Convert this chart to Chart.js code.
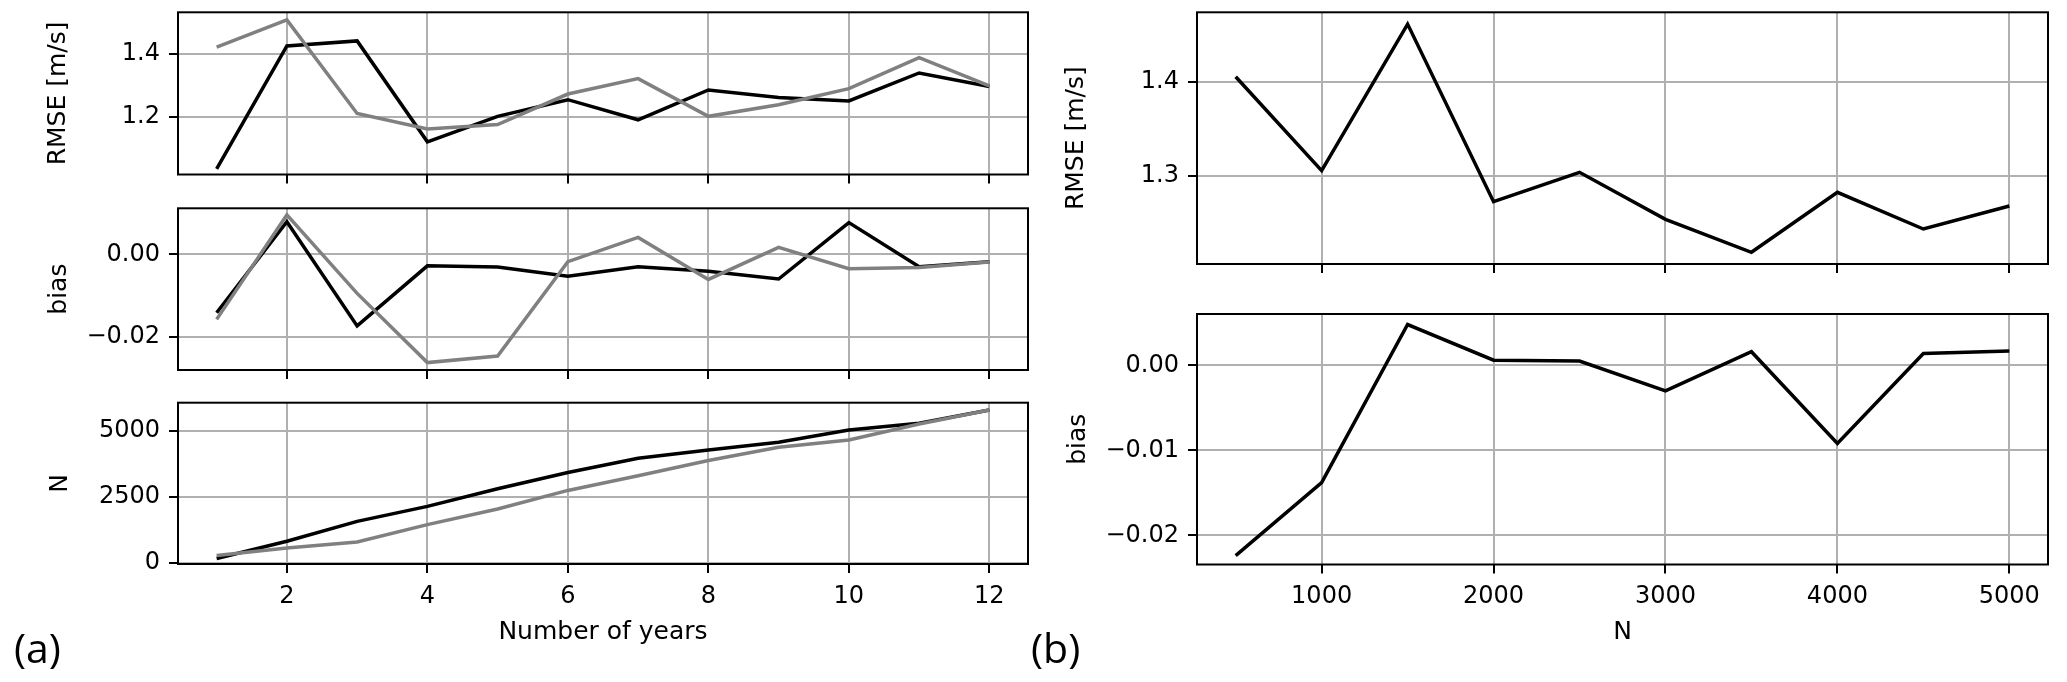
<!DOCTYPE html>
<html>
<head>
<meta charset="utf-8">
<script src="https://cdn.jsdelivr.net/npm/chart.js@4.4.1/dist/chart.umd.min.js"></script>
<style>
  body { margin: 0; background: #fff; }
  #wrap { position: relative; width: 2067px; height: 682px; overflow: hidden; }
  canvas { position: absolute; }
  .tag { position: absolute; font-family: "Open Sans"; font-size: 41px; line-height: 1; color: #000; }
</style>
</head>
<body>
<div id="wrap">
  <canvas id="rmseYears" width="1040" height="200" style="left:0px;top:0px"></canvas>
  <canvas id="biasYears" width="1040" height="195" style="left:0px;top:195px"></canvas>
  <canvas id="countYears" width="1040" height="292" style="left:0px;top:390px"></canvas>
  <canvas id="rmseN" width="1037" height="290" style="left:1030px;top:0px"></canvas>
  <canvas id="biasN" width="1037" height="392" style="left:1030px;top:290px"></canvas>
  <div class="tag" style="left:14px;top:627px">(a)</div>
  <div class="tag" style="left:1031px;top:627px">(b)</div>
</div>
<script>
// (a) error vs number of years, two runs (black, gray)
const years = [1, 2, 3, 4, 5, 6, 7, 8, 9, 10, 11, 12];
const rmseBlack = [1.035, 1.426, 1.442, 1.121, 1.202, 1.255, 1.191, 1.286, 1.262, 1.251, 1.340, 1.297];
const rmseGray = [1.422, 1.509, 1.211, 1.162, 1.176, 1.273, 1.322, 1.202, 1.239, 1.290, 1.389, 1.299];
const biasBlack = [-0.0142, 0.0079, -0.0174, -0.0028, -0.0031, -0.0053, -0.0030, -0.0041, -0.0060, 0.0077, -0.0030, -0.0018];
const biasGray = [-0.0158, 0.0096, -0.0095, -0.0263, -0.0247, -0.0018, 0.0041, -0.0061, 0.0017, -0.0035, -0.0032, -0.0019];
const countBlack = [180, 829, 1583, 2148, 2814, 3429, 3969, 4283, 4572, 5037, 5288, 5790];
const countGray = [290, 578, 804, 1457, 2047, 2751, 3304, 3881, 4384, 4660, 5263, 5790];

// (b) error vs sample size N
const sampleSizes = [500, 1000, 1500, 2000, 2500, 3000, 3500, 4000, 4500, 5000];
const rmseBySize = [1.4053, 1.3057, 1.4611, 1.2728, 1.3039, 1.2541, 1.2191, 1.2827, 1.2438, 1.2682];
const biasBySize = [-0.0224, -0.0138, 0.0048, 0.0006, 0.0005, -0.0030, 0.0016, -0.0092, 0.0014, 0.0017];

// tick positions
const yearTicks = [2, 4, 6, 8, 10, 12];
const sizeTicks = [1000, 2000, 3000, 4000, 5000];
const rmseYearTicks = [1.2, 1.4];
const biasYearTicks = [-0.02, 0];
const countTicks = [0, 2500, 5000];
const rmseSizeTicks = [1.3, 1.4];
const biasSizeTicks = [-0.02, -0.01, 0];

Chart.defaults.font.family = "DejaVu Sans";
Chart.defaults.color = "#000";

const BLACK = "#000000";
const GRAY = "#808080";

// matplotlib style box around the axes
const frame = {
  id: "frame",
  afterDatasetsDraw(chart) {
    const { ctx, chartArea } = chart;
    ctx.save();
    ctx.strokeStyle = "#000";
    ctx.lineWidth = 2;
    ctx.strokeRect(chartArea.left, chartArea.top, chartArea.right - chartArea.left, chartArea.bottom - chartArea.top);
    ctx.restore();
  },
};

const minus = (s) => s.replace("-", "\u2212");

// scales ask for room for their end labels; the plot box is placed by hand instead
function noOverflow(scale) {
  scale.paddingTop = 0;
  scale.paddingBottom = 0;
  scale.paddingLeft = 0;
  scale.paddingRight = 0;
}

function makePanel(id, p) {
  const ctx = document.getElementById(id).getContext("2d");
  const datasets = p.series.map((s) => ({
    data: p.xs.map((x, i) => ({ x: x, y: s.values[i] })),
    borderColor: s.color,
    borderWidth: 3.5,
    pointRadius: 0,
    tension: 0,
    fill: false,
    order: s.order,
  }));

  return new Chart(ctx, {
    type: "line",
    data: { datasets: datasets },
    options: {
      responsive: false,
      animation: false,
      devicePixelRatio: 1,
      events: [],
      layout: { autoPadding: false, padding: { left: 0, top: p.top, right: p.right, bottom: 0 } },
      plugins: { legend: { display: false }, tooltip: { enabled: false } },
      scales: {
        x: {
          type: "linear",
          min: p.xMin,
          max: p.xMax,
          afterBuildTicks: (scale) => { scale.ticks = p.xTicks.map((v) => ({ value: v })); },
          afterFit: (scale) => { scale.height = p.xHeight; noOverflow(scale); },
          border: { display: false },
          grid: { color: "#b0b0b0", lineWidth: 2, tickColor: "#000", tickWidth: 2, tickLength: 9 },
          ticks: { display: p.xLabels, padding: 9, autoSkip: false, maxRotation: 0, font: { size: 24 }, callback: (v) => String(v) },
          title: { display: !!p.xTitle, text: p.xTitle || "", font: { size: 25 }, padding: { top: 0, bottom: 35 } },
        },
        y: {
          min: p.yMin,
          max: p.yMax,
          afterBuildTicks: (scale) => { scale.ticks = p.yTicks.map((v) => ({ value: v })); },
          afterFit: (scale) => { scale.width = p.yWidth; noOverflow(scale); },
          border: { display: false },
          grid: { color: "#b0b0b0", lineWidth: 2, tickColor: "#000", tickWidth: 2, tickLength: 9 },
          ticks: { padding: 9, font: { size: 24 }, callback: p.yFormat },
          title: { display: true, text: p.yTitle, font: { size: 25 }, padding: { top: p.titlePad, bottom: 0 } },
        },
      },
    },
    plugins: [frame],
  });
}

makePanel("rmseYears", {
  xs: years,
  series: [{ values: rmseBlack, color: BLACK, order: 1 }, { values: rmseGray, color: GRAY, order: 0 }],
  xMin: 0.45, xMax: 12.55, xTicks: yearTicks, xLabels: false,
  yMin: 1.017, yMax: 1.533, yTicks: rmseYearTicks,
  yFormat: (v) => v.toFixed(1), yTitle: "RMSE [m/s]", titlePad: 43,
  top: 12.3, right: 12, yWidth: 178, xHeight: 25.5,
});

makePanel("biasYears", {
  xs: years,
  series: [{ values: biasBlack, color: BLACK, order: 1 }, { values: biasGray, color: GRAY, order: 0 }],
  xMin: 0.45, xMax: 12.55, xTicks: yearTicks, xLabels: false,
  yMin: -0.0281, yMax: 0.01117, yTicks: biasYearTicks,
  yFormat: (v) => minus(v.toFixed(2)), yTitle: "bias", titlePad: 44,
  top: 13.3, right: 12, yWidth: 178, xHeight: 20,
});

makePanel("countYears", {
  xs: years,
  series: [{ values: countBlack, color: BLACK, order: 1 }, { values: countGray, color: GRAY, order: 0 }],
  xMin: 0.45, xMax: 12.55, xTicks: yearTicks, xLabels: true, xTitle: "Number of years",
  yMin: -30, yMax: 6067, yTicks: countTicks,
  yFormat: (v) => String(v), yTitle: "N", titlePad: 45,
  top: 12.7, right: 12, yWidth: 178, xHeight: 118,
});

makePanel("rmseN", {
  xs: sampleSizes,
  series: [{ values: rmseBySize, color: BLACK, order: 0 }],
  xMin: 275, xMax: 5225, xTicks: sizeTicks, xLabels: false,
  yMin: 1.2067, yMax: 1.4736, yTicks: rmseSizeTicks,
  yFormat: (v) => v.toFixed(1), yTitle: "RMSE [m/s]", titlePad: 31,
  top: 12.3, right: 19, yWidth: 167, xHeight: 26,
});

makePanel("biasN", {
  xs: sampleSizes,
  series: [{ values: biasBySize, color: BLACK, order: 0 }],
  xMin: 275, xMax: 5225, xTicks: sizeTicks, xLabels: true, xTitle: "N",
  yMin: -0.02344, yMax: 0.00604, yTicks: biasSizeTicks,
  yFormat: (v) => minus(v.toFixed(2)), yTitle: "bias", titlePad: 33,
  top: 24, right: 19, yWidth: 167, xHeight: 117.5,
});
</script>
</body>
</html>
